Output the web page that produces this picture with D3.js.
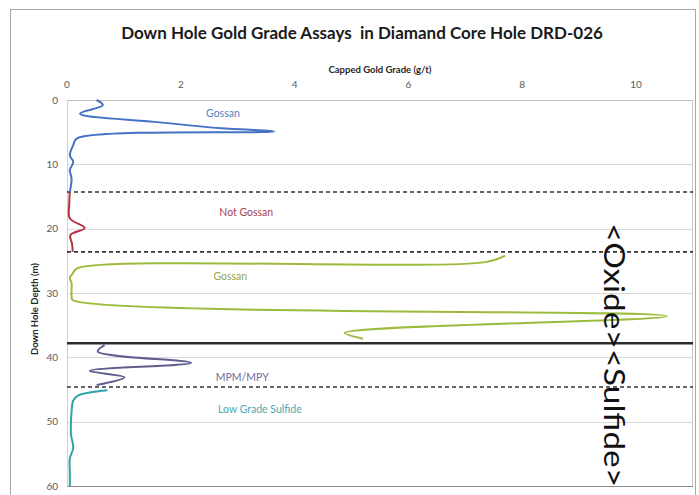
<!DOCTYPE html>
<html>
<head>
<meta charset="utf-8">
<script src="https://cdn.jsdelivr.net/npm/d3@7"></script>
<style>
  html, body { margin: 0; padding: 0; background: #fff; }
  svg { display: block; }
  text { font-family: Lato, "Open Sans", "Liberation Sans", sans-serif; }
</style>
</head>
<body>
<svg id="chart" width="699" height="495"></svg>
<script>
// Axis ticks
const gradeTicks = [0, 2, 4, 6, 8, 10];
const depthTicks = [0, 10, 20, 30, 40, 50, 60];

// Assay intervals: depth (m) and capped gold grade (g/t)
const gossanTopDepth = [0, 0.8, 2.1, 3.4, 4.4, 4.9, 6.0, 7.0, 8.6, 9.6, 10.9, 12.2, 14.3];
const gossanTopGrade = [0.52, 0.63, 0.23, 1.54, 2.71, 3.64, 0.17, 0.11, 0.05, 0.11, 0.05, 0.08, 0.05];

const notGossanDepth = [14.3, 16.0, 18.4, 19.9, 21.0, 22.4, 23.6];
const notGossanGrade = [0.05, 0.04, 0.05, 0.31, 0.06, 0.09, 0.10];

const gossanLowerDepth = [24.2, 25.2, 26.2, 27.0, 27.6, 28.5, 29.5, 30.5, 31.1, 33.6, 36.2, 37.1];
const gossanLowerGrade = [7.7, 7.35, 0.17, 0.10, 0.05, 0.08, 0.08, 0.08, 0.10, 10.54, 4.88, 5.2];

const mpmDepth = [38.1, 39.1, 40.85, 42.1, 43.1, 44.3];
const mpmGrade = [0.66, 0.54, 2.18, 0.40, 1.01, 0.52];

const lowGradeDepth = [45.1, 45.9, 46.7, 48.5, 50.0, 52.0, 54.1, 55.7, 58.0, 60.0];
const lowGradeGrade = [0.71, 0.20, 0.11, 0.08, 0.07, 0.07, 0.11, 0.05, 0.05, 0.05];

// Zone boundaries (m)
const zoneBreaks = [14.3, 23.6, 44.6];
const oxideSulfideBreak = [37.8];

// Zone names with label anchor (grade, depth)
const zoneNames = ["Gossan", "Not Gossan", "Gossan", "MPM/MPY", "Low Grade Sulfide"];
const zoneLabelGrade = [2.74, 3.15, 2.87, 3.08, 3.39];
const zoneLabelDepth = [2.0, 17.4, 27.3, 43.0, 48.05];

const series = [
  { depth: gossanTopDepth, grade: gossanTopGrade, color: "#4472c4", label: "#4f7fc2" },
  { depth: notGossanDepth, grade: notGossanGrade, color: "#b3303f", label: "#a8434f" },
  { depth: gossanLowerDepth, grade: gossanLowerGrade, color: "#9bbb3c", label: "#8fa548" },
  { depth: mpmDepth, grade: mpmGrade, color: "#605e8e", label: "#6e6c98" },
  { depth: lowGradeDepth, grade: lowGradeGrade, color: "#2fa3ad", label: "#4aa8b1" }
];

const svg = d3.select("#chart");

const x = d3.scaleLinear().domain([0, 11]).range([67, 693]);
const y = d3.scaleLinear().domain([0, 60]).range([100, 486]);

// Chart frame
svg.append("rect")
  .attr("x", 10.5).attr("y", 9.5)
  .attr("width", 685).attr("height", 500)
  .attr("fill", "#fff").attr("stroke", "#a6a6a6").attr("stroke-width", 1);

// Horizontal gridlines
svg.append("g").selectAll("line")
  .data(depthTicks)
  .join("line")
  .attr("x1", x(0)).attr("x2", x.range()[1])
  .attr("y1", d => Math.round(y(d)) + 0.5).attr("y2", d => Math.round(y(d)) + 0.5)
  .attr("stroke", d => d === 60 ? "#8c8c8c" : (d === 0 ? "#bfbfbf" : "#d9d9d9"))
  .attr("stroke-width", 1);

// Plot area sides
svg.append("line")
  .attr("x1", x(0) + 0.5).attr("x2", x(0) + 0.5)
  .attr("y1", y(0)).attr("y2", y(60))
  .attr("stroke", "#d0d0d0");
svg.append("line")
  .attr("x1", x.range()[1] - 0.5).attr("x2", x.range()[1] - 0.5)
  .attr("y1", y(0)).attr("y2", y(60))
  .attr("stroke", "#c8c8c8");

// Top grade axis labels
svg.append("g").selectAll("text")
  .data(gradeTicks)
  .join("text")
  .attr("x", d => x(d))
  .attr("y", 88)
  .attr("text-anchor", "middle")
  .attr("font-size", 10)
  .attr("fill", "#595959")
  .text(d => d);

// Left depth axis labels
svg.append("g").selectAll("text")
  .data(depthTicks)
  .join("text")
  .attr("x", 58)
  .attr("y", d => y(d) + 3.5)
  .attr("text-anchor", "end")
  .attr("font-size", 10)
  .attr("fill", "#595959")
  .text(d => d);

// Titles
svg.append("text")
  .attr("x", 362).attr("y", 39)
  .attr("text-anchor", "middle")
  .attr("font-size", 17).attr("font-weight", "bold")
  .attr("fill", "#1a1a1a")
  .attr("xml:space", "preserve")
  .text("Down Hole Gold Grade Assays  in Diamand Core Hole DRD-026");

svg.append("text")
  .attr("x", (x(0) + x.range()[1]) / 2).attr("y", 73)
  .attr("text-anchor", "middle")
  .attr("font-size", 9.5).attr("font-weight", "bold")
  .attr("fill", "#262626")
  .text("Capped Gold Grade (g/t)");

svg.append("text")
  .attr("transform", "translate(38,309) rotate(-90)")
  .attr("text-anchor", "middle")
  .attr("font-size", 9.5).attr("font-weight", "bold")
  .attr("fill", "#262626")
  .text("Down Hole Depth (m)");

// Zone boundaries
svg.append("g").selectAll("line")
  .data(zoneBreaks)
  .join("line")
  .attr("x1", x(0)).attr("x2", x.range()[1])
  .attr("y1", d => y(d)).attr("y2", d => y(d))
  .attr("stroke", "#333").attr("stroke-width", 1.6)
  .attr("stroke-dasharray", "4,3");

svg.append("g").selectAll("line")
  .data(oxideSulfideBreak)
  .join("line")
  .attr("x1", x(0)).attr("x2", x.range()[1])
  .attr("y1", d => y(d)).attr("y2", d => y(d))
  .attr("stroke", "#2b2b2b").attr("stroke-width", 2.6);

// Assay traces
const line = d3.line()
  .x(d => x(d[1]))
  .y(d => y(d[0]))
  .curve(d3.curveCatmullRom.alpha(0.5));

svg.append("g").selectAll("path")
  .data(series)
  .join("path")
  .attr("d", s => line(d3.zip(s.depth, s.grade)))
  .attr("fill", "none")
  .attr("stroke", s => s.color)
  .attr("stroke-width", 2)
  .attr("stroke-linejoin", "round");

// Zone names
svg.append("g").selectAll("text")
  .data(zoneNames)
  .join("text")
  .attr("x", (d, i) => x(zoneLabelGrade[i]))
  .attr("y", (d, i) => y(zoneLabelDepth[i]) + 4)
  .attr("text-anchor", "middle")
  .attr("font-size", 10.5)
  .attr("fill", (d, i) => series[i].label)
  .text(d => d);

// Oxide / sulfide annotation
svg.append("text")
  .attr("transform", "translate(604,223) rotate(90)")
  .attr("font-size", 29)
  .attr("fill", "#111")
  .attr("textLength", 264)
  .attr("lengthAdjust", "spacingAndGlyphs")
  .text("<Oxide><Sulfide>");
</script>
</body>
</html>
